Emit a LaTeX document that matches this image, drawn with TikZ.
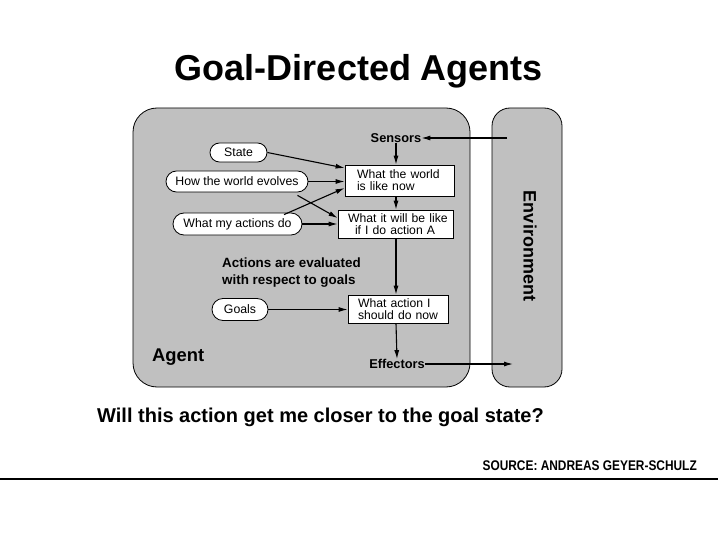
\documentclass[tikz,border=0pt]{standalone}
\usepackage{fontspec}
\setmainfont{Liberation Sans}
\usetikzlibrary{arrows.meta,shapes.misc}
\definecolor{agentgray}{RGB}{192,192,192}
\tikzset{
  arr/.style={draw, line width=1.1pt, -{Latex[length=9pt,width=5pt]}},
  bigbox/.style={draw, line width=0.8pt, fill=agentgray, rounded corners=24pt, inner sep=0pt},
  envbox/.style={draw, line width=0.8pt, fill=agentgray, rounded corners=18pt, inner sep=0pt},
  pill/.style={draw, line width=0.8pt, fill=white, rounded rectangle, inner sep=0pt, font=\fontsize{12.3}{13}\selectfont},
  statebox/.style={draw, line width=0.8pt, fill=white, inner xsep=2pt, inner ysep=0pt, align=left, font=\fontsize{12.2}{12}\selectfont},
  lbl/.style={inner sep=0pt, font=\bfseries\fontsize{12.8}{14}\selectfont}
}
\begin{document}
\begin{tikzpicture}[x=1pt,y=-1pt]
\useasboundingbox (0,0) rectangle (720,540);
% title
\node[inner sep=0pt, anchor=base, font=\bfseries\fontsize{36}{40}\selectfont] (title) at (359,81) {Goal-Directed Agents};
% frames
\node[bigbox, minimum width=337pt, minimum height=279pt] (agent) at (301.5,247.5) {};
\node[envbox, minimum width=70pt, minimum height=279pt] (env) at (527,247.5) {};
\node[inner sep=0pt, rotate=-90, font=\bfseries\fontsize{18}{20}\selectfont] (envl) at (530,246) {Environment};
\node[inner sep=0pt, anchor=west, font=\bfseries\fontsize{18.4}{20}\selectfont] (agentl) at (152,357) {Agent};
% sensors / effectors
\node[lbl] (sensors) at (396,138) {Sensors};
\node[lbl] (effectors) at (397,364) {Effectors};
\coordinate (envin) at (507,138);
\coordinate (envout) at (513,364);
% pills
\node[pill, minimum width=57pt, minimum height=19pt] (state) at (238.5,152.5) {State};
\node[pill, minimum width=142pt, minimum height=21pt] (evolves) at (237,181.5) {How the world evolves};
\node[pill, minimum width=129pt, minimum height=22pt] (actions) at (237.5,224) {What my actions do};
\node[pill, minimum width=56pt, minimum height=22pt] (goals) at (240,309.5) {Goals};
% state boxes
\node[statebox, minimum width=109pt, minimum height=31pt, text width=105pt] (now) at (399.5,180.5) {\hspace*{10pt}What the world\\\hspace*{10pt}is like now};
\node[statebox, minimum width=115pt, minimum height=28pt, text width=111pt] (will) at (395.5,224) {\hspace*{8pt}What it will be like\\\hspace*{15pt}if I do action A};
\node[statebox, minimum width=100pt, minimum height=28pt, text width=96pt] (what) at (398,309) {\hspace*{8pt}What action I\\\hspace*{8pt}should do now};
% note
\node[inner sep=0pt, anchor=west, align=left, font=\bfseries\fontsize{13.4}{17}\selectfont] (note) at (222,272.5) {Actions are evaluated\\with respect to goals};
% arrows
\draw[arr] (envin) -- (sensors.east);
\draw[arr] (sensors.south) -- (now.north -| sensors.south);
\draw[arr] (state.east) -- (now.west |- 0,168);
\draw[arr] (evolves.east) -- (now.west |- evolves.east);
\draw[arr] ([yshift=-3pt]evolves.south east) -- (will.west |- 0,218);
\draw[arr] ([xshift=-7pt,yshift=-2pt]actions.north east) -- (now.west |- 0,188);
\draw[arr] (actions.east) -- (will.west |- actions.east);
\draw[arr] (now.south -| sensors.south) -- (will.north -| sensors.south);
\draw[arr] (will.south -| sensors.south) -- (what.north -| sensors.south);
\draw[arr] (goals.east) -- (what.west |- goals.east);
\draw[arr] (what.south -| sensors.south) -- (effectors.north);
\draw[arr] (effectors.east) -- (envout);
% caption
\node[inner sep=0pt, anchor=west, font=\bfseries\fontsize{20}{22}\selectfont] (question) at (97,417) {Will this action get me closer to the goal state?};
\node[inner sep=0pt, anchor=east, font=\bfseries\fontsize{14}{15}\selectfont] (source) at (697,466) {\addfontfeature{FakeStretch=0.85}SOURCE: ANDREAS GEYER-SCHULZ};
\coordinate (ruleL) at (0,479);
\coordinate (ruleR) at (718,479);
\draw[line width=2.2pt] (ruleL) -- (ruleR);
\end{tikzpicture}
\end{document}
